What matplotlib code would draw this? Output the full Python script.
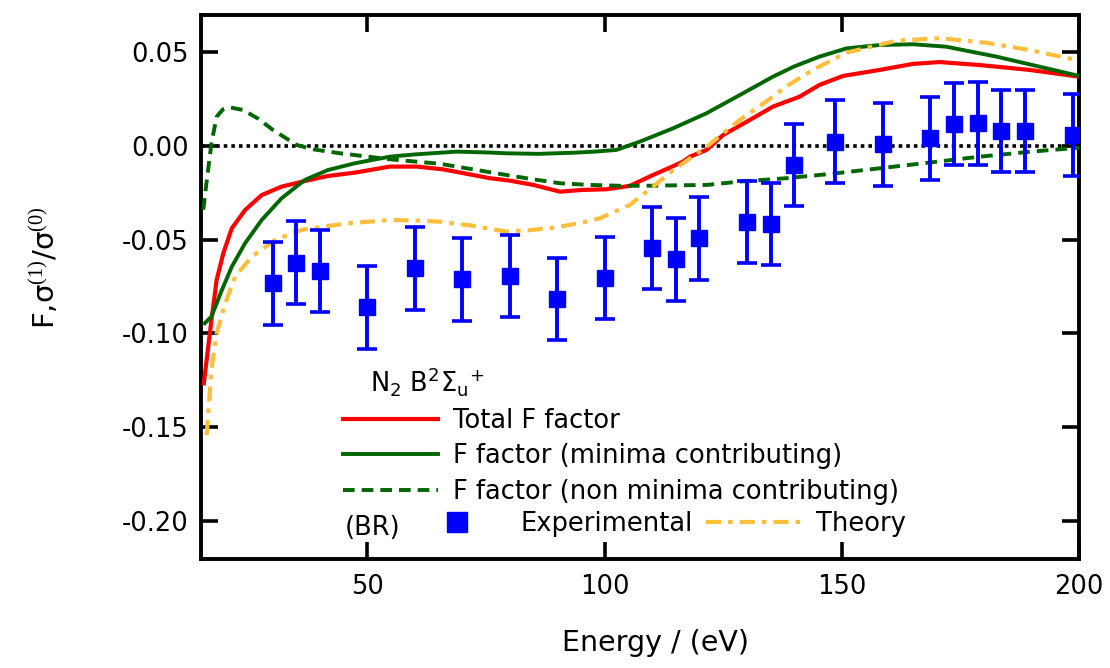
import matplotlib
matplotlib.use("Agg")
import matplotlib.pyplot as plt
from matplotlib.lines import Line2D

plt.rcParams['font.family'] = ['DejaVu Sans']
plt.rcParams['mathtext.fontset'] = 'custom'
plt.rcParams['mathtext.rm'] = 'Liberation Serif'
plt.rcParams['mathtext.sf'] = 'DejaVu Sans'
plt.rcParams['mathtext.it'] = 'DejaVu Sans:italic'

# ---- data ----
total_x = [15.5, 17.1, 18.2, 19.6, 21.4, 24.2, 27.7, 31.9, 36.8, 41.7, 47.4, 54.7, 60.4, 66, 72.3,
           75.8, 80, 85, 90.6, 95, 100.4, 105.3, 110.2, 113, 116.5, 118, 121.5, 125, 130, 135.5,
           141.1, 145.3, 150.3, 158, 165, 170.6, 179.1, 189.6, 200]
total_y = [-0.1267, -0.093, -0.0715, -0.0573, -0.0439, -0.0342, -0.0262, -0.0217, -0.0187, -0.016,
           -0.0142, -0.011, -0.011, -0.0125, -0.0155, -0.0172, -0.0185, -0.0208, -0.0244, -0.0235,
           -0.0231, -0.0213, -0.0155, -0.0124, -0.0084, -0.0057, -0.0021, 0.0059, 0.013, 0.021,
           0.0263, 0.0326, 0.0374, 0.0406, 0.0438, 0.0448, 0.0432, 0.0406, 0.037]

minima_x = [15.7, 17.1, 19.3, 21.4, 24.2, 27.7, 31.9, 36.8, 41.7, 47.4, 54.7, 60, 68.8, 75.8, 79.3,
            86, 93.4, 98, 102.5, 107.4, 114.4, 121.5, 128.5, 135.5, 140, 145.3, 151, 158, 165, 172,
            182.6, 193.1, 200]
minima_y = [-0.0946, -0.0911, -0.0769, -0.0644, -0.0519, -0.0395, -0.0279, -0.0181, -0.0128, -0.0092,
            -0.0057, -0.0045, -0.003, -0.0035, -0.0039, -0.0042, -0.0036, -0.003, -0.0021, 0.0023,
            0.0094, 0.0175, 0.0272, 0.037, 0.0425, 0.0477, 0.0521, 0.0539, 0.0543, 0.053, 0.0477,
            0.0415, 0.0374]

nonmin_x = [15.4, 15.7, 17.1, 18.2, 19.5, 21, 23.8, 27, 30.1, 35.1, 38.6, 44.2, 54.7, 65.3, 75.1,
            79.3, 85, 90.6, 97, 103.9, 110, 115, 121.5, 128.5, 138.3, 148, 158, 168, 179.1, 190,
            198.7, 200]
nonmin_y = [-0.034, -0.027, 0.0014, 0.0156, 0.0195, 0.0206, 0.0192, 0.0145, 0.0085, 0.0005, -0.0018,
            -0.0039, -0.0071, -0.0095, -0.0137, -0.0155, -0.0178, -0.0199, -0.0208, -0.0213, -0.0212,
            -0.021, -0.0208, -0.019, -0.0172, -0.0148, -0.0119, -0.009, -0.0057, -0.003, -0.0012,
            -0.0008]

theory_x = [16.1, 17.1, 18.2, 20, 22.1, 25.6, 30.5, 36.1, 41.7, 45.8, 54.7, 60, 65.3, 72, 79.3, 84,
            89.9, 95, 99, 105.3, 110.2, 114.4, 121.5, 128.5, 135.5, 138, 143.9, 151, 161.5, 170.6,
            180.5, 189.6, 199.5, 200]
theory_y = [-0.1543, -0.1196, -0.1, -0.084, -0.0698, -0.0591, -0.0502, -0.0448, -0.0427, -0.0413,
            -0.0395, -0.0398, -0.0404, -0.0425, -0.0457, -0.045, -0.0434, -0.041, -0.0386, -0.0315,
            -0.0217, -0.013, -0.0004, 0.0139, 0.0263, 0.0313, 0.0406, 0.0498, 0.0562, 0.0575, 0.0551,
            0.0512, 0.0459, 0.0455]

exp_E = [30, 35, 40, 50, 60, 70, 80, 90, 100, 110, 115, 120, 130, 135, 140, 148.5, 158.7, 168.5,
         173.6, 178.7, 183.6, 188.7, 198.7]
exp_F = [-0.0733, -0.0623, -0.0666, -0.0861, -0.0653, -0.0712, -0.0694, -0.0818, -0.0706, -0.0546,
         -0.0605, -0.0493, -0.0406, -0.0416, -0.0101, 0.0023, 0.0009, 0.0041, 0.0117, 0.0121, 0.008,
         0.008, 0.0059]
exp_err = [0.022] * len(exp_E)

x_ticks = [50, 100, 150, 200]
y_ticks = [0.05, 0.00, -0.05, -0.10, -0.15, -0.20]
y_ticklabels = ['0.05', '0.00', '-0.05', '-0.10', '-0.15', '-0.20']

RED = '#FF0000'
GREEN = '#006600'
ORANGE = '#FFBE3C'
BLUE = '#0000FF'

fig = plt.figure(figsize=(11.10, 6.68), dpi=100)
ax = fig.add_axes([0.1815, 0.1639, 0.7905, 0.8136])

ax.axhline(0, color='black', lw=2.6, ls=(0, (1, 1.1)), zorder=1)

l_total, = ax.plot(total_x, total_y, color=RED, lw=3.0, zorder=3)
l_min, = ax.plot(minima_x, minima_y, color=GREEN, lw=2.8, zorder=3)
l_non, = ax.plot(nonmin_x, nonmin_y, color=GREEN, lw=2.8, ls=(0, (3.0, 1.8)), zorder=3)
l_th, = ax.plot(theory_x, theory_y, color=ORANGE, lw=3.0, ls=(0, (3.6, 1.7, 1.1, 1.7)), zorder=3)
ax.errorbar(exp_E, exp_F, yerr=exp_err, fmt='s', color=BLUE, ms=11, mec=BLUE,
            elinewidth=2.8, capsize=7, capthick=2.6, zorder=4)

ax.set_xlim(15, 200)
ax.set_ylim(-0.2202, 0.0699)
ax.set_xticks(x_ticks)
ax.set_yticks(y_ticks)
ax.set_yticklabels(y_ticklabels)

for s in ax.spines.values():
    s.set_linewidth(2.8)
ax.tick_params(direction='in', length=12.5, width=2.6, top=True, right=True,
               labelsize=18.5, colors='black')
ax.tick_params(axis='x', pad=11)
ax.tick_params(axis='y', pad=9)

ax.set_xlabel('Energy / (eV)', fontsize=20.5)
ax.set_ylabel(r'F,σ$^{\mathrm{(1)}}$/σ$^{\mathrm{(0)}}$', fontsize=21)
ax.xaxis.set_label_coords(0.517, -0.13)
ax.yaxis.set_label_coords(-0.16, 0.535)

# legend
leg1 = ax.legend([l_total, l_min, l_non],
                 ['Total F factor', 'F factor (minima contributing)',
                  'F factor (non minima contributing)'],
                 loc='upper left', bbox_to_anchor=(0.1613, 0.2775), frameon=False,
                 fontsize=18.5, handlelength=3.7, handletextpad=0.6, borderpad=0,
                 borderaxespad=0, labelspacing=0.37)
ax.add_artist(leg1)
h_exp = Line2D([], [], ls='none', marker='s', ms=14, color=BLUE)
ax.legend([h_exp, l_th], ['Experimental', 'Theory'], ncol=2,
          loc='upper left', bbox_to_anchor=(0.2376, 0.088), frameon=False,
          fontsize=18.5, handlelength=3.7, handletextpad=0.6, borderpad=0,
          borderaxespad=0, columnspacing=0.5)
ax.text(0.1636, 0.043, '(BR)', transform=ax.transAxes, fontsize=18.5, va='baseline', ha='left')
ax.text(0.192, 0.308, r'N$_\mathsf{2}$ B$^\mathsf{2}$Σ$_\mathsf{u}$$^\mathsf{+}$',
        transform=ax.transAxes, fontsize=18.5, va='baseline', ha='left')

fig.savefig('out.png', dpi=100)
